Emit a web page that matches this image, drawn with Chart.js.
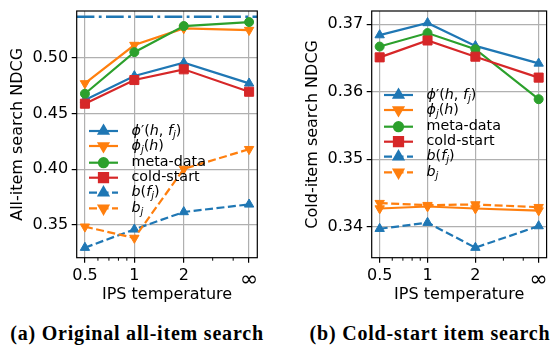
<!DOCTYPE html>
<html>
<head>
<meta charset="utf-8">
<script src="https://cdn.jsdelivr.net/npm/chart.js@4.4.1/dist/chart.umd.min.js"></script>
<style>
    html, body { margin: 0; padding: 0; background: #fff; overflow: hidden; width: 554px; height: 345px; }
    .panel { position: absolute; top: 0; }
    .caption { position: absolute; top: 322px; font: bold 20px 'Liberation Serif', serif; letter-spacing: 0.8px; white-space: nowrap; transform: translateX(-50%); color: #000; }
</style>
</head>
<body>
<div class="panel" style="left:0"><canvas id="allChart" width="280" height="310"></canvas></div>
<div class="panel" style="left:280px"><canvas id="coldChart" width="274" height="310"></canvas></div>
<div class="caption" style="left:137px">(a) Original all-item search</div>
<div class="caption" style="left:430px">(b) Cold-start item search</div>
<script>
// IPS temperatures (5 is where "∞" sits on the log axis)
const temps = [0.5, 1, 2, 5];
const tempLabels = ['0.5', '1', '2', '∞'];
const minorTicks = [0.6, 0.7, 0.8, 0.9, 3, 4];

// (a) all-item search NDCG
const allPhiPrime = [0.462, 0.4836, 0.4955, 0.477];
const allPhiJ = [0.477, 0.5114, 0.5263, 0.5248];
const allMeta = [0.4677, 0.505, 0.5284, 0.532];
const allCold = [0.4588, 0.480, 0.4896, 0.4695];
const allBF = [0.3297, 0.3461, 0.3617, 0.3685];
const allBJ = [0.3485, 0.3384, 0.4003, 0.418];
const allRef = 0.5367;
const allYTicks = [0.35, 0.40, 0.45, 0.50];

// (b) cold-item search NDCG
const coldPhiPrime = [0.3684, 0.3702, 0.3668, 0.3642];
const coldPhiJ = [0.3427, 0.3430, 0.3427, 0.3424];
const coldMeta = [0.3667, 0.3687, 0.3663, 0.3589];
const coldCold = [0.3651, 0.3676, 0.3652, 0.3621];
const coldBF = [0.3397, 0.3406, 0.3369, 0.3401];
const coldBJ = [0.3435, 0.3432, 0.3433, 0.3429];
const coldYTicks = [0.34, 0.35, 0.36, 0.37];

// legend labels as [text, italic, subscript]
const seriesLabels = [
    [['ϕ', 1], ['′', 0], ['(', 0], ['h', 1], [', ', 0], ['f', 1], ['j', 1, 1], [')', 0]],
    [['ϕ', 1], ['j', 1, 1], ['(', 0], ['h', 1], [')', 0]],
    [['meta-data', 0]],
    [['cold-start', 0]],
    [['b', 1], ['(', 0], ['f', 1], ['j', 1, 1], [')', 0]],
    [['b', 1], ['j', 1, 1]]
];

const seriesStyles = [
    { color: '#1f77b4', point: 'triangle', rot: 0, r: 5.4, dash: [] },
    { color: '#ff7f0e', point: 'triangle', rot: 180, r: 5.4, dash: [] },
    { color: '#2ca02c', point: 'circle', rot: 0, r: 4.5, dash: [] },
    { color: '#d62728', point: 'rect', rot: 0, r: 6.4, dash: [] },
    { color: '#1f77b4', point: 'triangle', rot: 0, r: 5.4, dash: [8, 3.5] },
    { color: '#ff7f0e', point: 'triangle', rot: 180, r: 5.4, dash: [8, 3.5] }
];
const legendRowOffsets = [0, 15, 31.7, 46.7, 61.7, 77.3];

const xMin = 0.4455;
const xMax = 5.61;
const FONT = 'DejaVu Sans';

Chart.defaults.font.family = FONT;
Chart.defaults.color = '#000';

function drawLabel(ctx, segs, x, y, size) {
    ctx.textBaseline = 'middle';
    ctx.textAlign = 'left';
    segs.forEach(([text, italic, sub]) => {
        const fs = sub ? size * 0.7 : size;
        ctx.font = (italic ? 'italic ' : '') + fs + 'px ' + FONT;
        ctx.fillText(text, x, sub ? y + size * 0.28 : y);
        x += ctx.measureText(text).width;
    });
}

function framePlugin(legendX, legendY) {
    return {
        id: 'frame',
        afterDraw(chart) {
            const { ctx, chartArea: a, scales } = chart;
            ctx.save();
            // minor ticks
            ctx.strokeStyle = '#000';
            ctx.lineWidth = 1;
            minorTicks.forEach(v => {
                const px = scales.x.getPixelForValue(v);
                ctx.beginPath();
                ctx.moveTo(px, a.bottom);
                ctx.lineTo(px, a.bottom + 3);
                ctx.stroke();
            });
            // spines
            ctx.lineWidth = 1.2;
            ctx.strokeRect(a.left, a.top, a.right - a.left, a.bottom - a.top);

            // legend
            seriesStyles.forEach((s, i) => {
                const y = legendY + legendRowOffsets[i];
                ctx.strokeStyle = s.color;
                ctx.fillStyle = s.color;
                ctx.lineWidth = 2.2;
                ctx.setLineDash(s.dash);
                ctx.beginPath();
                ctx.moveTo(legendX - 14.5, y);
                ctx.lineTo(legendX + 14.5, y);
                ctx.stroke();
                ctx.setLineDash([]);
                Chart.helpers.drawPoint(ctx, { pointStyle: s.point, radius: s.r, rotation: s.rot, borderWidth: 1 }, legendX, y);
                ctx.fillStyle = '#000';
                drawLabel(ctx, seriesLabels[i], legendX + 28, y, 14.3);
            });
            ctx.restore();
        }
    };
}

function makeChart(id, values, ref, yMin, yMax, yTicks, yTitle, opts) {
    const datasets = values.map((vals, i) => {
        const s = seriesStyles[i];
        return {
            data: vals.map((v, k) => ({ x: temps[k], y: v })),
            borderColor: s.color,
            backgroundColor: s.color,
            pointBackgroundColor: s.color,
            pointBorderColor: s.color,
            pointStyle: s.point,
            pointRotation: s.rot,
            pointRadius: s.r,
            pointBorderWidth: 1,
            borderWidth: 2.2,
            borderDash: s.dash,
            tension: 0,
            fill: false,
            order: values.length - i
        };
    });
    if (ref !== null) {
        datasets.push({
            data: [{ x: xMin, y: ref }, { x: xMax, y: ref }],
            borderColor: '#1f77b4',
            borderWidth: 2.5,
            borderDash: [17.7, 4.4, 2.8, 4.4],
            pointRadius: 0,
            fill: false,
            order: 20
        });
    }

    return new Chart(document.getElementById(id), {
        type: 'line',
        data: { datasets },
        options: {
            responsive: false,
            animation: false,
            layout: { padding: { top: 11, left: 0, bottom: 0, right: opts.padRight } },
            plugins: { legend: { display: false }, tooltip: { enabled: false } },
            scales: {
                x: {
                    type: 'logarithmic',
                    min: xMin,
                    max: xMax,
                    afterBuildTicks: s => {
                        s.ticks = temps.concat(minorTicks).sort((a, b) => a - b).map(v => ({ value: v }));
                    },
                    afterFit: s => {
                        s.height = 52.3;
                        s.paddingLeft = 0;
                        s.paddingRight = 0;
                    },
                    ticks: {
                        autoSkip: false,
                        maxRotation: 0,
                        padding: 4,
                        color: '#000',
                        font: c => ({ size: (c.tick && c.tick.value === 5) ? 22 : 16 }),
                        callback: v => {
                            const i = temps.indexOf(v);
                            return i >= 0 ? tempLabels[i] : '';
                        }
                    },
                    grid: {
                        color: c => (c.tick && temps.includes(c.tick.value)) ? '#b0b0b0' : 'rgba(0,0,0,0)',
                        tickColor: c => (c.tick && temps.includes(c.tick.value)) ? '#000' : 'rgba(0,0,0,0)',
                        tickLength: 5,
                        lineWidth: 1.2
                    },
                    border: { display: false },
                    title: {
                        display: true,
                        text: 'IPS temperature',
                        color: '#000',
                        font: { size: 16 },
                        padding: { top: 0, bottom: 5.4 }
                    }
                },
                y: {
                    min: yMin,
                    max: yMax,
                    afterBuildTicks: s => {
                        s.ticks = yTicks.map(v => ({ value: v }));
                    },
                    afterFit: s => {
                        s.width = opts.yWidth;
                        s.paddingTop = 0;
                        s.paddingBottom = 0;
                    },
                    ticks: {
                        padding: 3.5,
                        color: '#000',
                        font: { size: 16 },
                        callback: v => v.toFixed(2)
                    },
                    grid: { color: '#b0b0b0', tickColor: '#000', tickLength: 5, lineWidth: 1.2 },
                    border: { display: false },
                    title: {
                        display: true,
                        text: yTitle,
                        color: '#000',
                        font: { size: 16 },
                        padding: { top: opts.titlePad, bottom: 0 }
                    }
                }
            }
        },
        plugins: [framePlugin(opts.legendX, opts.legendY)]
    });
}

document.addEventListener('DOMContentLoaded', () => {
    makeChart('allChart',
        [allPhiPrime, allPhiJ, allMeta, allCold, allBF, allBJ],
        allRef, 0.3207, 0.5419, allYTicks, 'All-item search NDCG',
        { padRight: 22.7, yWidth: 76.7, titlePad: 8.4, legendX: 103.5, legendY: 131 });
    makeChart('coldChart',
        [coldPhiPrime, coldPhiJ, coldMeta, coldCold, coldBF, coldBJ],
        null, 0.33541, 0.37197, coldYTicks, 'Cold-item search NDCG',
        { padRight: 0.7, yWidth: 91.7, titlePad: 23.4, legendX: 118.5, legendY: 95 });
});
</script>
</body>
</html>
